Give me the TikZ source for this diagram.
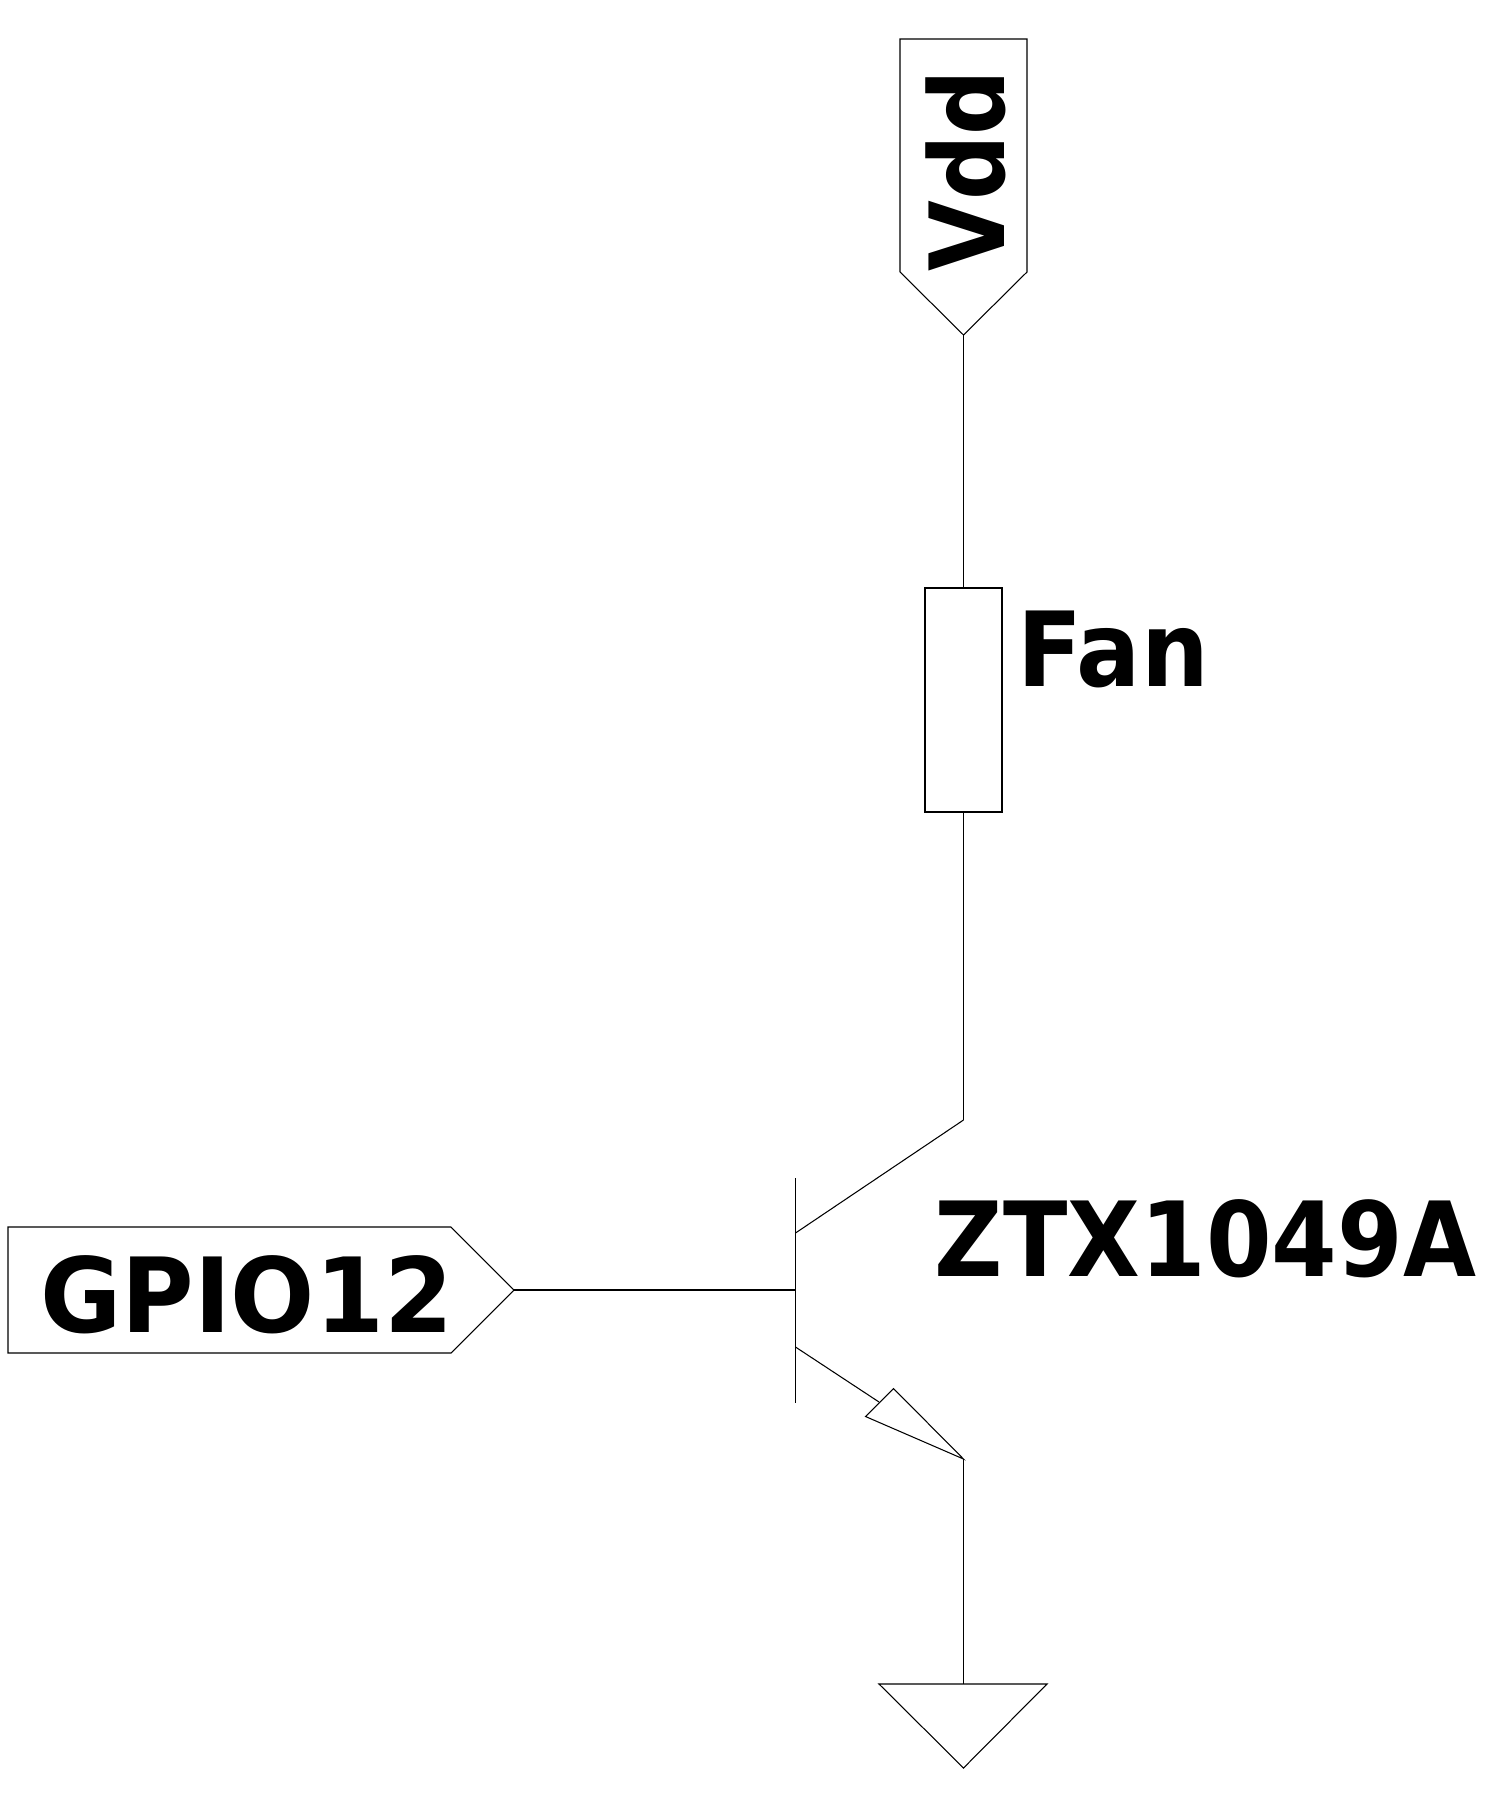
\documentclass[tikz,border=0pt]{standalone}
\usepackage{fontspec}
\newfontfamily\tagfont{DejaVu Sans Bold}
\begin{document}
\begin{tikzpicture}[line width = 0.6pt, line join = miter]
    \tikzstyle{tag} = [inner sep = 0pt, transform shape, font = \tagfont\fontsize{59}{59}\selectfont]
    \tikzstyle{block} = [draw, shape = rectangle, inner sep = 0pt, minimum height = 4.48cm, minimum width = 1.54cm]

    \useasboundingbox (0,0) rectangle (30.22,-36.08);

    % supply pin
    \coordinate (vddtip) at (19.27,-6.7);
    \draw (18,-0.78) -- (20.54,-0.78) -- (20.54,-5.44) -- (vddtip) -- (18,-5.44) -- cycle;
    \node[tag, anchor = base west, rotate = 90, xscale = 0.882] (vdd) at (20.08,-5.44) {Vdd};

    % load
    \node[block] (fan) at (19.27,-14) {};
    \node[tag, anchor = base west, xscale = 0.918] (fanlabel) at (20.34,-13.72) {Fan};

    % input pin
    \coordinate (gpiotip) at (10.28,-25.8);
    \draw (0.16,-24.54) -- (9.02,-24.54) -- (gpiotip) -- (9.02,-27.06) -- (0.16,-27.06) -- cycle;
    \node[tag, anchor = base west, xscale = 0.956] (gpio) at (0.79,-26.64) {GPIO12};

    % transistor
    \coordinate (bartop) at (15.91,-23.56);
    \coordinate (barbot) at (15.91,-28.06);
    \coordinate (base) at (15.91,-25.8);
    \coordinate (collin) at (15.91,-24.66);
    \coordinate (coll) at (19.27,-22.4);
    \coordinate (emitin) at (15.91,-26.94);
    \coordinate (emitend) at (17.58,-28.04);
    \coordinate (emit) at (19.27,-29.18);
    \node[tag, anchor = base west, xscale = 0.91] (part) at (18.69,-25.52) {ZTX1049A};

    \draw (bartop) -- (barbot);
    \draw (collin) -- (coll);
    \draw (emitin) -- (emitend);
    \draw (emit) -- (17.87,-27.77) -- (17.31,-28.33) -- cycle;

    % ground
    \coordinate (gndtop) at (19.27,-33.68);
    \draw (17.58,-33.68) -- (20.94,-33.68) -- (19.27,-35.36) -- cycle;

    \draw (vddtip) -- (fan);
    \draw (fan) -- (coll);
    \draw (gpiotip) -- (base);
    \draw (emit) -- (gndtop);
\end{tikzpicture}
\end{document}
